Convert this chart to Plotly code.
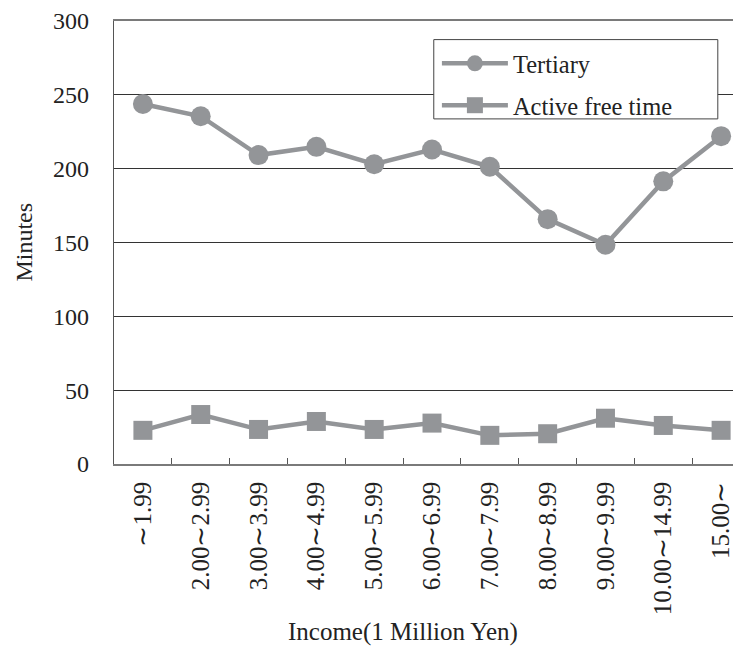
import plotly.graph_objects as go

# income brackets (1 million yen)
income = ["∼1.99", "2.00∼2.99", "3.00∼3.99", "4.00∼4.99", "5.00∼5.99", "6.00∼6.99",
          "7.00∼7.99", "8.00∼8.99", "9.00∼9.99", "10.00∼14.99", "15.00∼"]
tertiary = [243.8, 235.5, 209.2, 214.8, 203.0, 213.0, 201.3, 165.8, 148.5, 191.4, 222.0]
active_free = [22.8, 33.5, 23.4, 28.8, 23.4, 27.7, 19.4, 20.5, 31.0, 26.1, 22.8]

GREY = "#939598"
FONT = "Liberation Serif, Times New Roman, serif"

fig = go.Figure()
fig.add_trace(go.Scatter(
    x=income, y=tertiary, name="Tertiary", mode="lines+markers", legendgroup="a",
    line={"color": GREY, "width": 4.5},
    marker={"symbol": "circle", "size": 20, "color": GREY},
))
fig.add_trace(go.Scatter(
    x=income, y=active_free, name="Active free time", mode="lines+markers", legendgroup="b",
    line={"color": GREY, "width": 4.5},
    marker={"symbol": "square", "size": 19, "color": GREY},
))

# the page body has an 8px margin, so the figure is 8px smaller than the window
fig.update_layout(
    width=733, height=638,
    margin={"l": 106, "r": 0, "t": 8, "b": 182},
    paper_bgcolor="white", plot_bgcolor="white",
    font={"family": FONT, "size": 25, "color": "#222"},
    showlegend=True,
    legend={
        "x": 0.515, "y": 0.955, "xanchor": "left", "yanchor": "top",
        "bgcolor": "rgba(0,0,0,0)", "borderwidth": 0,
        "font": {"size": 24.5, "color": "#222"}, "tracegroupgap": 7,
        "itemwidth": 66,
    },
    xaxis={
        "range": [-0.5, 10.344], "showgrid": False, "zeroline": False,
        "showline": True, "linecolor": "#7a7a7a", "linewidth": 1.5, "mirror": True,
        "ticks": "inside", "tickson": "boundaries", "ticklen": 6, "tickcolor": "#555",
        "tickangle": -90, "tickfont": {"size": 25, "color": "#222"},
        "ticklabelstandoff": 6,
    },
    yaxis={
        "range": [0, 300], "dtick": 50, "showgrid": True, "gridcolor": "#333", "gridwidth": 1,
        "zeroline": False, "showline": True, "linecolor": "#555", "linewidth": 1.2,
        "ticks": "", "ticklabelstandoff": 19, "ticklabeloverflow": "allow",
        "tickfont": {"size": 24, "color": "#222"},
    },
    shapes=[
        {"type": "rect", "xref": "paper", "yref": "paper", "x0": 0.510, "x1": 0.963,
         "y0": 0.779, "y1": 0.958, "fillcolor": "white", "line": {"color": "#444", "width": 1},
         "layer": "above"},
    ],
    annotations=[
        {"text": "Minutes", "textangle": -90, "x": -0.145, "y": 0.5, "xref": "paper", "yref": "paper",
         "xanchor": "center", "yanchor": "middle",
         "showarrow": False, "font": {"size": 24, "color": "#222"}},
        {"text": "Income(1 Million Yen)", "x": 0.461, "y": -0.379, "xref": "paper", "yref": "paper",
         "xanchor": "center", "yanchor": "middle",
         "showarrow": False, "font": {"size": 25, "color": "#222"}},
    ],
)

fig.write_html("out.html")
